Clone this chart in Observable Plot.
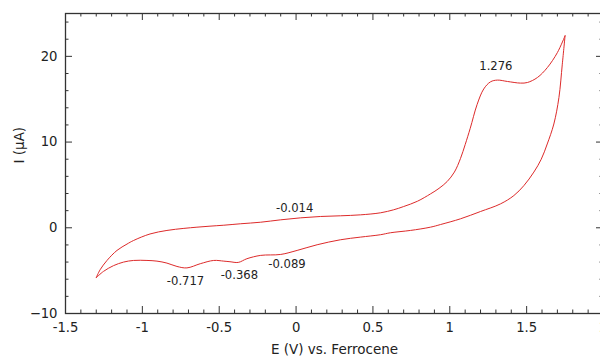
<!DOCTYPE html>
<html>
<head>
<meta charset="utf-8">
<script src="https://cdn.jsdelivr.net/npm/d3@7"></script>
<script src="https://cdn.jsdelivr.net/npm/@observablehq/plot@0.6"></script>
<style>
  html, body { margin: 0; padding: 0; background: #fff; overflow: hidden; }
</style>
</head>
<body>
<div id="chart"></div>
<script>
// Forward scan (negative -> positive)
const E_fwd = [-1.30,-1.275,-1.23,-1.165,-1.10,-1.057,-0.95,-0.84,-0.73,-0.645,-0.56,-0.47,-0.36,-0.23,-0.10,0.03,0.16,0.29,0.42,0.55,0.635,0.70,0.79,0.875,0.93,0.983,1.03,1.07,1.10,1.133,1.178,1.221,1.265,1.31,1.375,1.46,1.505,1.57,1.635,1.70,1.75];
const I_fwd = [-5.82,-4.9,-3.81,-2.64,-1.9,-1.48,-0.72,-0.31,-0.07,0.07,0.19,0.30,0.47,0.65,0.93,1.16,1.32,1.40,1.51,1.75,2.10,2.48,3.10,3.96,4.6,5.4,6.5,8.1,9.7,11.6,14.4,16.2,17.03,17.23,17.07,16.88,16.95,17.53,18.70,20.44,22.4];
// Reverse scan (positive -> negative)
const E_rev = [1.75,1.732,1.71,1.677,1.634,1.595,1.547,1.482,1.417,1.33,1.20,1.07,0.94,0.874,0.744,0.614,0.549,0.418,0.288,0.137,0.007,-0.10,-0.23,-0.32,-0.376,-0.43,-0.47,-0.536,-0.623,-0.71,-0.775,-0.84,-0.905,-0.97,-1.057,-1.122,-1.188,-1.253,-1.30];
const I_rev = [22.4,19.09,15.20,12.11,9.78,8.0,6.5,4.92,3.76,2.79,1.90,1.05,0.38,0.07,-0.31,-0.58,-0.81,-1.09,-1.40,-1.98,-2.64,-3.11,-3.22,-3.61,-4.04,-3.96,-3.89,-3.81,-4.19,-4.68,-4.51,-4.12,-3.89,-3.81,-3.81,-4.00,-4.42,-5.09,-5.82];

// Peak annotations
const peakLabels = ["1.276","-0.014","-0.089","-0.368","-0.717"];
const peakE = [1.30,-0.009,-0.059,-0.369,-0.719];
const peakI = [18.8,2.33,-4.24,-5.55,-6.25];

// Ticks
const xMajor = [-1.5,-1,-0.5,0,0.5,1,1.5,2];
const xMajorLabels = ["-1.5","-1","-0.5","0","0.5","1","1.5","2"];
const yMajor = [-10,0,10,20];
const xMinor = d3.range(-15, 21, 1).map(d => d / 10).filter(d => Math.abs(d * 2 - Math.round(d * 2)) > 1e-6);
const yMinor = d3.range(-10, 26, 2).filter(d => d % 10 !== 0);

const curve = [
  ...E_fwd.map((e, i) => ({E: e, I: I_fwd[i], s: "f"})),
  ...E_rev.map((e, i) => ({E: e, I: I_rev[i], s: "r"}))
];
const notes = peakLabels.map((t, i) => ({t, E: peakE[i], I: peakI[i]}));

const ink = "#333";
const W = 600, H = 361, mL = 65, mR = -3, mT = 13, mB = 48;
const fw = W - mL - mR, fh = H - mT - mB;
const majL = 7, minL = 3.5;

const chart = Plot.plot({
  width: W,
  height: H,
  marginLeft: mL,
  marginRight: mR,
  marginTop: mT,
  marginBottom: mB,
  style: {fontFamily: "DejaVu Sans, sans-serif", fontSize: "13px", color: "#222", background: "#fff"},
  x: {domain: [-1.5, 2], label: null},
  y: {domain: [-10, 25], label: null},
  marks: [
    Plot.line(curve, {x: "E", y: "I", z: "s", stroke: "#dd2a2a", strokeWidth: 1, curve: "catmull-rom"}),
    Plot.text(notes, {x: "E", y: "I", text: "t", fontSize: 11.6, fill: "#222"}),
    // tick labels
    Plot.axisX({anchor: "bottom", ticks: xMajor, tickFormat: (d, i) => xMajorLabels[i], tickSize: 0, tickPadding: 9, fontSize: 13.2, label: null, fill: "#222"}),
    Plot.axisY({anchor: "left", ticks: yMajor, tickSize: 0, tickPadding: 8, fontSize: 13.2, label: null, fill: "#222"}),
    // inward ticks on all four sides
    Plot.tickX(xMajor, {x: d => d, insetTop: fh - majL, stroke: ink}),
    Plot.tickX(xMinor, {x: d => d, insetTop: fh - minL, stroke: ink}),
    Plot.tickX(xMajor, {x: d => d, insetBottom: fh - majL, stroke: ink}),
    Plot.tickX(xMinor, {x: d => d, insetBottom: fh - minL, stroke: ink}),
    Plot.tickY(yMajor, {y: d => d, insetRight: fw - majL, stroke: ink}),
    Plot.tickY(yMinor, {y: d => d, insetRight: fw - minL, stroke: ink}),
    Plot.tickY(yMajor, {y: d => d, insetLeft: fw - majL, stroke: ink}),
    Plot.tickY(yMinor, {y: d => d, insetLeft: fw - minL, stroke: ink}),
    Plot.frame({stroke: ink, strokeWidth: 1.3}),
    // axis titles
    Plot.text(["E (V) vs. Ferrocene"], {frameAnchor: "bottom", dy: 40, fontSize: 13.5, fill: "#222"}),
    Plot.text(["I (µA)"], {frameAnchor: "left", dx: -46, rotate: -90, fontSize: 13.5, fill: "#222"})
  ]
});
document.getElementById("chart").appendChild(chart);
</script>
</body>
</html>
